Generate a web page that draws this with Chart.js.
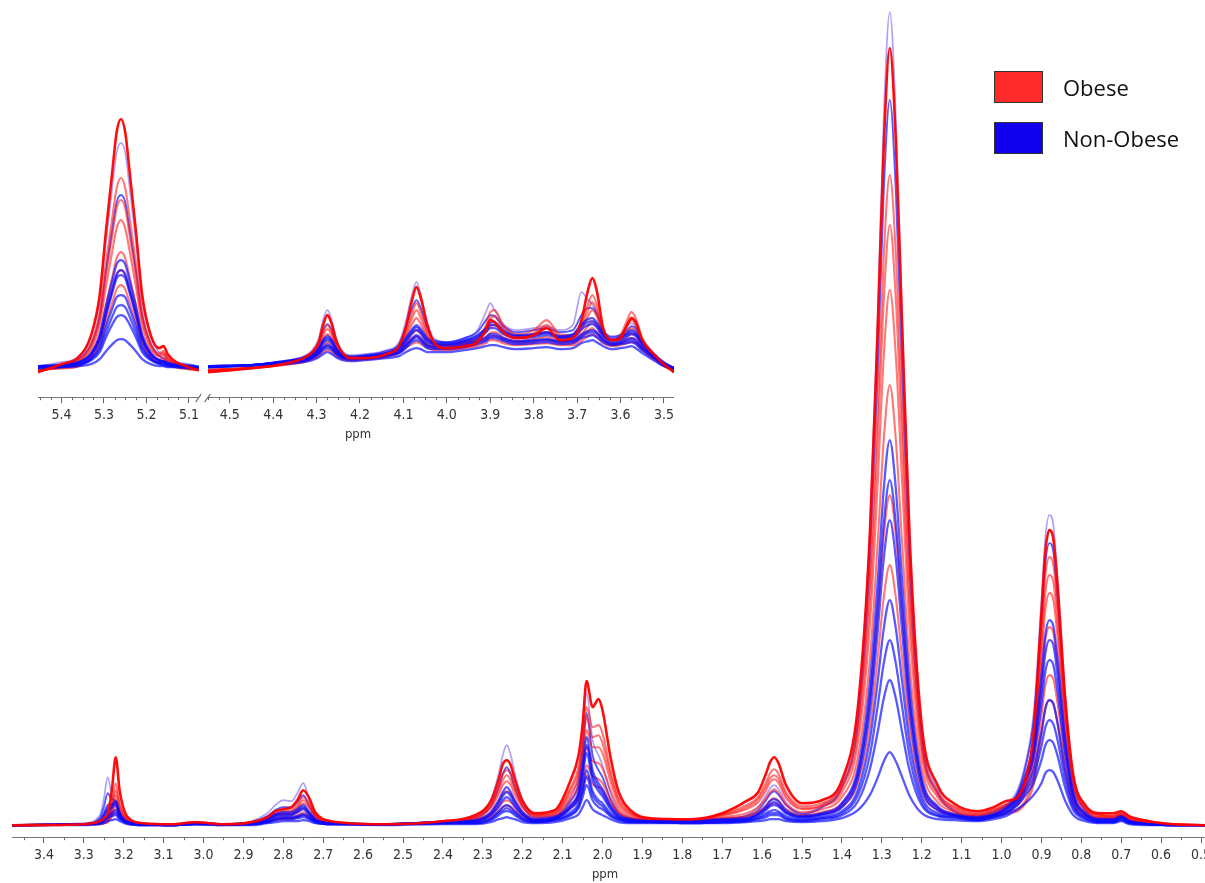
<!DOCTYPE html>
<html><head><meta charset="utf-8">
<script src="https://cdn.jsdelivr.net/npm/chart.js@4.4.1/dist/chart.umd.min.js"></script>
<style>
html,body{margin:0;padding:0;background:#fff;overflow:hidden;width:1205px;height:883px;}
#wrap{position:relative;width:1205px;height:883px;overflow:hidden;}
canvas{position:absolute;}
#main{left:0;top:0;}
#insL{left:38px;top:90px;}
#insR{left:208px;top:90px;}
.ppm{position:absolute;font-family:'DejaVu Sans Condensed','DejaVu Sans',sans-serif;font-size:13px;color:#333;transform:translate(-50%,-50%);}
.box{position:absolute;width:47px;height:30px;border:1px solid #333;}
.leg{position:absolute;font-family:'Open Sans',sans-serif;font-size:22px;color:#111;transform:translateY(-50%);white-space:nowrap;}
.brk{position:absolute;width:1px;height:10px;background:#666;transform:rotate(35deg);}
</style></head>
<body><div id="wrap">
<canvas id="main" width="1225" height="883"></canvas>
<canvas id="insL" width="165" height="340"></canvas>
<canvas id="insR" width="470" height="340"></canvas>
<div class="ppm" style="left:605px;top:873px">ppm</div>
<div class="ppm" style="left:358px;top:433px">ppm</div>
<div class="brk" style="left:198px;top:393px"></div>
<div class="brk" style="left:207px;top:393px"></div>
<div class="box" style="left:994px;top:71px;background:#ff2b2b"></div>
<div class="leg" style="left:1063px;top:87px">Obese</div>
<div class="box" style="left:994px;top:122px;background:#1100ee"></div>
<div class="leg" style="left:1063px;top:138px">Non-Obese</div>
</div>
<script>
// ---------- main spectrum (ppm grid) ----------
const ppmMain = [3.48,3.30,3.26,3.25,3.24,3.23,3.22,3.21,3.19,3.15,
 3.08,3.02,2.95,
 2.88,2.84,2.82,2.80,2.78,2.765,2.75,2.735,2.72,2.68,
 2.55,2.40,
 2.32,2.28,2.26,2.25,2.24,2.23,2.22,2.20,2.17,
 2.12,2.08,2.06,2.05,2.04,2.025,2.01,2.00,1.98,1.96,1.93,
 1.88,1.78,1.70,
 1.64,1.61,1.59,1.58,1.57,1.56,1.54,1.50,
 1.45,1.40,1.36,1.33,1.31,1.295,1.28,1.265,1.25,1.23,1.20,1.16,
 1.12,1.06,1.02,0.99,
 0.96,0.94,0.92,0.90,0.89,0.88,0.87,0.86,0.84,0.82,0.79,
 0.75,0.72,0.70,0.68,0.63,0.57,0.49];
const mainTickLabels = [3.4,3.3,3.2,3.1,3.0,2.9,2.8,2.7,2.6,2.5,2.4,2.3,2.2,2.1,2.0,1.9,1.8,1.7,1.6,1.5,1.4,1.3,1.2,1.1,1.0,0.9,0.8,0.7,0.6,0.5];

const obese1 = [0,1,4,7,12,34,68,34,8,2, 1,3,1, 3,8,14,16,18,25,35,27,13,4, 1,4, 10,24,46,61,65,60,46,24,12,
 15,45,70,100,144,118,126,115,68,34,15, 7,6,12, 24,33,52,63,68,63,40,22,
 25,45,118,290,500,680,777,685,510,285,100,40, 22,14,18,24, 28,46,90,212,274,295,286,242,125,50,20, 12,12,14,9,4,1,0];
const obese2 = [0,1,3,5,9,22,42,22,6,2, 1,3,1, 3,7,12,14,15,20,28,22,11,3, 1,4, 9,21,39,51,55,51,39,21,11,
 13,38,58,84,118,98,100,92,55,28,13, 6,5,11, 20,28,43,52,56,52,33,19,
 22,40,100,245,420,570,650,572,425,238,85,34, 19,12,16,21, 26,42,82,194,250,268,260,220,114,46,18, 11,10,12,8,4,1,0];
const obese3 = [0,1,2,4,8,19,35,19,5,1, 1,2,1, 2,6,11,12,13,18,25,19,10,3, 1,4, 8,19,35,45,50,45,35,19,10,
 12,35,53,76,108,88,90,82,50,25,12, 6,5,10, 18,26,39,47,50,47,30,17,
 20,37,92,225,387,525,600,527,392,219,78,31, 18,11,15,20, 25,40,76,181,233,250,243,205,106,43,17, 10,9,11,7,3,1,0];
const obese4 = [0,1,2,4,7,16,30,16,5,1, 0,2,1, 2,6,10,11,12,16,22,17,9,3, 1,3, 7,17,31,40,44,40,31,17,9,
 11,31,47,68,95,78,78,72,44,22,11, 5,5,10, 16,23,35,43,46,43,27,16,
 19,33,82,200,345,470,535,470,350,195,70,28, 16,10,14,19, 23,37,71,168,216,232,225,190,98,39,15, 10,9,11,7,3,1,0];
const obese5 = [0,1,2,3,5,13,24,13,4,1, 0,2,1, 2,5,8,9,10,13,17,13,7,2, 1,3, 6,13,24,31,34,31,24,13,7,
 9,26,39,56,78,64,62,57,35,18,9, 5,4,8, 12,18,27,33,36,33,21,13,
 16,28,68,165,284,386,440,386,288,160,58,23, 14,9,12,17, 20,32,61,143,185,198,192,162,84,33,13, 9,8,10,6,3,1,0];
const obese6 = [0,1,1,2,4,10,18,10,3,1, 0,2,1, 1,4,6,7,8,10,13,10,5,2, 1,3, 5,10,18,23,25,23,18,10,5,
 7,20,30,43,60,49,46,42,26,14,7, 4,4,7, 9,14,20,25,27,25,16,10,
 13,22,52,124,213,290,330,290,216,120,44,18, 12,8,10,14, 16,25,47,109,140,150,146,123,64,25,10, 8,7,9,5,2,1,0];
const obese7 = [0,1,1,2,3,8,14,8,2,1, 0,1,1, 1,3,5,6,6,8,10,8,4,1, 1,2, 4,8,14,18,20,18,14,8,4,
 6,17,25,36,50,41,38,35,22,12,6, 4,3,6, 8,12,17,20,22,20,13,9,
 11,18,42,98,168,228,260,228,170,95,35,15, 10,7,9,12, 14,22,40,91,117,125,122,103,54,22,9, 7,6,8,4,2,1,0];

const nonObese1 = [0,2,10,26,48,30,22,12,4,1, 1,3,1, 4,12,20,25,24,32,42,26,11,3, 1,3, 8,25,52,70,80,70,52,25,10,
 10,28,50,88,132,85,70,60,32,15,8, 5,4,7, 10,18,30,37,40,37,23,12,
 20,42,115,295,515,710,813,710,520,285,95,36, 16,10,14,20, 35,62,110,225,288,310,300,250,128,48,16, 8,8,11,6,2,0,0];
const nonObese2 = [0,1,7,18,32,26,25,14,4,1, 1,2,1, 3,9,15,18,18,23,30,19,8,2, 1,3, 7,19,38,51,58,51,38,19,8,
 9,24,42,75,112,70,55,48,26,12,7, 5,4,6, 9,15,25,31,34,31,20,11,
 18,38,102,265,460,635,725,635,465,255,85,32, 14,9,13,19, 32,58,102,205,262,282,273,228,116,44,15, 7,7,10,5,2,0,0];
const nonObese3 = [0,1,5,11,20,21,24,12,3,1, 0,2,1, 2,7,11,13,13,16,20,13,6,2, 1,3, 5,13,25,33,38,33,25,13,6,
 8,20,34,60,88,55,42,36,20,10,6, 4,4,6, 7,12,19,24,26,24,15,9,
 12,22,57,142,245,337,385,337,250,138,48,19, 11,8,11,17, 30,50,80,150,191,205,199,168,86,33,12, 6,6,9,4,1,0,0];
const nonObese4 = [0,1,4,10,17,19,22,11,3,1, 0,2,1, 2,6,10,11,11,14,18,12,5,2, 1,3, 4,11,22,29,33,29,22,11,5,
 7,18,31,54,80,50,38,32,18,9,5, 4,3,5, 6,11,17,21,23,21,13,8,
 11,20,51,127,220,302,345,302,224,124,43,17, 10,7,10,16, 28,47,73,135,172,185,180,151,78,30,11, 5,5,8,4,1,0,0];
const nonObese5 = [0,1,4,8,14,17,20,10,3,1, 0,2,1, 2,5,9,10,10,13,16,10,5,2, 1,3, 4,10,19,25,28,25,19,10,5,
 7,17,28,49,72,45,34,29,16,8,5, 4,3,5, 6,10,15,19,20,19,12,8,
 10,18,46,113,195,267,305,267,198,110,38,15, 10,7,10,15, 27,44,66,121,154,165,160,135,70,27,10, 5,5,8,4,1,0,0];
const nonObese6 = [0,1,3,6,10,13,15,8,2,1, 0,1,1, 1,4,7,8,8,9,11,8,4,1, 1,2, 3,7,14,18,20,18,14,7,4,
 6,13,22,38,55,34,25,22,12,7,4, 3,3,4, 5,8,12,14,15,14,9,6,
 8,14,35,85,145,197,225,197,147,82,29,12, 9,6,9,13, 24,38,55,93,117,125,121,103,54,21,8, 4,4,7,3,1,0,0];
const nonObese7 = [0,1,2,5,8,11,12,7,2,0, 0,1,1, 1,3,6,7,7,8,10,7,3,1, 1,2, 2,6,12,15,17,15,12,6,3,
 5,11,19,33,48,30,22,19,10,6,3, 3,2,3, 4,7,10,12,12,12,7,5,
 7,12,30,70,120,162,185,162,121,68,24,10, 8,5,8,12, 22,34,48,79,98,105,101,86,45,18,7, 3,3,6,2,1,0,0];
const nonObese8 = [0,1,2,4,7,9,10,6,2,0, 0,1,0, 1,3,5,6,6,7,8,6,3,1, 1,2, 2,5,10,13,14,13,10,5,3,
 5,10,17,28,40,25,18,16,9,5,3, 3,2,3, 4,6,8,10,10,10,6,4,
 6,10,24,56,94,127,145,127,95,54,20,9, 7,5,8,11, 20,30,42,65,80,85,82,70,37,15,6, 3,3,5,2,1,0,0];
const nonObese9 = [0,0,1,2,4,5,6,4,1,0, 0,1,0, 0,2,3,4,4,4,5,4,2,1, 0,1, 1,3,6,7,8,7,6,3,2,
 3,7,11,18,25,16,12,10,6,3,2, 2,2,2, 3,4,5,6,6,6,4,3,
 4,7,15,30,48,64,73,64,49,29,12,6, 5,4,6,9, 16,22,30,42,52,55,53,45,24,10,4, 2,2,4,1,0,0,0];

// ---------- inset, left part (5.455 - 5.077 ppm) ----------
const ppmInsetL = [5.455,5.40,5.36,5.33,5.31,5.295,5.28,5.27,5.26,5.25,5.24,5.225,5.21,5.19,5.17,5.16,5.15,5.13,5.10,5.077];
const insetTicksL = [5.4,5.3,5.2,5.1];
const obese1L = [-2,6,13,35,75,140,200,238,251,238,200,140,75,35,22,24,16,8,3,0];
const obese2L = [-1,5,10,27,58,108,154,182,192,182,154,108,58,27,17,19,13,6,3,1];
const obese3L = [-1,5,9,24,51,95,136,162,170,162,136,95,51,24,15,17,12,6,3,1];
const obese4L = [-1,4,8,21,45,84,120,142,150,142,120,84,45,21,14,15,10,5,2,0];
const obese5L = [0,3,6,17,35,66,94,112,118,112,94,66,35,17,11,12,8,4,2,0];
const obese6L = [0,2,4,14,30,56,80,95,100,95,80,56,30,14,9,10,7,3,1,0];
const obese7L = [0,2,4,12,26,48,68,81,85,81,68,48,26,12,8,9,6,3,1,0];
const nonObese1L = [4,8,13,34,70,129,184,218,227,218,184,129,70,34,18,16,11,8,6,4];
const nonObese2L = [4,6,11,26,54,100,142,168,175,168,142,100,54,26,14,12,9,7,5,4];
const nonObese3L = [4,5,8,17,35,64,90,106,110,106,90,64,35,17,10,9,7,5,4,3];
const nonObese4L = [4,5,8,16,32,58,82,96,100,96,82,58,32,16,10,9,7,5,4,3];
const nonObese5L = [3,5,7,15,30,55,78,92,95,92,78,55,30,15,9,8,6,5,4,3];
const nonObese6L = [3,4,6,12,24,44,62,73,75,73,62,44,24,12,7,7,5,4,3,2];
const nonObese7L = [3,4,6,11,21,38,54,63,65,63,54,38,21,11,7,6,5,4,3,2];
const nonObese8L = [2,3,5,10,18,33,46,53,55,53,46,33,18,10,6,5,4,3,2,2];
const nonObese9L = [2,3,4,6,11,19,26,30,31,30,26,19,11,6,4,4,3,3,2,1];

// ---------- inset, right part (4.55 - 3.477 ppm) ----------
const ppmInsetR = [4.55,4.45,4.38,4.33,4.31,4.295,4.285,4.275,4.265,4.255,4.24,4.22,4.19,4.14,4.11,4.095,4.08,4.07,4.06,4.045,4.03,4.00,3.96,3.93,3.91,3.90,3.89,3.87,3.84,3.80,3.77,3.74,3.71,3.69,3.675,3.665,3.655,3.64,3.62,3.60,3.585,3.575,3.565,3.55,3.52,3.50,3.477];
const insetTicksR = [4.5,4.4,4.3,4.2,4.1,4.0,3.9,3.8,3.7,3.6,3.5];
const obese1R = [-2,2,6,12,18, 28,45,55,46,30, 17,12,12,16,24, 42,70,83,72,45, 28,22,24,28,40, 50,48,38,32,35, 42,30,32,50,80, 92,80,42,30,32, 45,52,48,30,14, 6,-2];
const obese2R = [-1,3,7,12,17, 25,38,45,38,25, 15,12,13,17,24, 38,57,67,58,38, 27,25,28,32,45, 58,60,45,36,40, 50,36,35,48,66, 75,66,38,30,35, 50,58,52,32,15, 6,-2];
const obese3R = [-1,3,7,12,16, 23,35,41,35,23, 15,12,13,17,23, 35,52,60,52,35, 26,25,28,31,42, 52,54,42,34,37, 45,34,34,44,60, 68,60,37,30,34, 44,50,46,30,15, 6,-2];
const obese4R = [0,3,7,11,15, 21,31,36,31,21, 14,12,13,16,22, 32,46,52,46,32, 25,24,27,30,38, 44,45,38,32,34, 38,32,32,40,54, 60,54,36,30,32, 38,42,40,28,14, 6,-1];
const obese5R = [0,2,6,10,13, 18,25,28,25,18, 13,11,12,15,20, 27,36,40,36,27, 23,22,25,28,33, 37,38,33,29,31, 33,29,29,35,44, 48,44,32,27,29, 33,36,35,25,12, 5,-1];
const obese6R = [0,2,5,9,12, 16,22,24,22,16, 12,10,11,14,18, 25,31,34,31,25, 22,21,23,26,30, 33,34,30,27,28, 30,27,27,32,39, 42,38,30,25,27, 30,32,31,22,11, 4,-1];
const obese7R = [1,2,5,8,11, 14,18,20,18,14, 11,10,11,13,17, 22,26,28,26,22, 20,20,22,24,27, 30,30,27,25,26, 27,25,25,29,34, 36,33,27,24,25, 27,28,27,20,10, 4,0];
const nonObese1R = [3,5,9,14,20, 32,50,60,50,32, 19,15,16,20,28, 48,76,88,76,48, 32,28,32,40,58, 67,60,46,40,42, 44,40,45,78,70, 66,58,40,34,36, 44,47,44,30,15, 8,2];
const nonObese2R = [3,5,9,13,18, 27,40,46,40,27, 17,14,15,19,26, 42,62,70,62,42, 30,28,32,38,50, 55,54,44,38,40, 42,38,40,55,62, 62,56,40,33,35, 40,44,42,30,15, 8,2];
const nonObese3R = [3,5,8,12,16, 22,30,34,30,22, 15,13,14,17,23, 32,41,45,41,32, 28,27,30,35,42, 47,48,40,35,36, 38,34,36,46,51, 52,48,37,31,33, 37,40,38,28,14, 7,2];
const nonObese4R = [3,5,8,12,15, 21,29,32,29,21, 15,13,14,17,22, 30,39,43,39,30, 27,26,29,34,40, 45,45,38,34,35, 37,33,35,44,48, 49,46,36,30,32, 36,38,36,27,14, 7,2];
const nonObese5R = [3,5,8,11,14, 20,27,30,27,20, 14,12,13,16,21, 28,37,40,37,28, 26,25,28,32,38, 42,42,36,32,33, 35,32,33,41,45, 46,43,34,29,30, 34,36,34,26,13, 6,2];
const nonObese6R = [4,5,8,10,13, 18,23,26,23,18, 13,12,12,15,19, 25,32,35,32,25, 24,23,26,29,33, 36,36,32,29,30, 31,29,30,36,39, 40,38,31,27,28, 31,32,30,23,12, 6,2];
const nonObese7R = [4,5,8,10,13, 17,22,24,22,17, 13,12,12,15,18, 24,30,33,30,24, 23,22,25,28,31, 34,34,31,28,29, 30,28,29,34,37, 38,36,30,26,27, 29,30,28,22,12, 6,2];
const nonObese8R = [4,5,7,9,12, 16,20,22,20,16, 12,11,11,14,17, 22,28,30,28,22, 21,21,23,26,29, 32,32,29,26,27, 28,26,27,32,34, 35,33,28,25,26, 27,28,26,20,11, 5,2];
const nonObese9R = [4,5,6,8,10, 13,16,18,16,13, 10,9,10,12,14, 18,21,22,21,18, 18,18,20,22,24, 25,25,23,21,22, 23,21,22,27,29, 30,28,24,21,22, 23,24,22,17,9, 4,1];

// ---------- styles ----------
const RED_STRONG = 'rgba(255,0,0,0.95)';
const RED = 'rgba(255,20,20,0.58)';
const BLUE_TALL = 'rgba(125,95,235,0.6)';
const BLUE = 'rgba(10,10,255,0.68)';

function series(xs, ys, color, width){
  return {data: xs.map((x,i)=>({x:x, y:ys[i]})), borderColor: color, borderWidth: width,
    pointRadius:0, fill:false, cubicInterpolationMode:'monotone'};
}
function buildSets(xs, o, n){
  // first in array is drawn on top
  const sets = [series(xs, o[0], RED_STRONG, 2.6)];
  for (let i = n.length - 1; i >= 2; i--) sets.push(series(xs, n[i], BLUE, 2.3));
  for (let i = o.length - 1; i >= 1; i--) sets.push(series(xs, o[i], RED, 2.1));
  sets.push(series(xs, n[1], BLUE, 1.9));
  sets.push(series(xs, n[0], BLUE_TALL, 1.7));
  return sets;
}

const minorTicks = {
  id:'minorTicks',
  afterDraw(chart, args, opts){
    const s = chart.scales.x, ctx = chart.ctx;
    const lo = Math.min(s.min, s.max), hi = Math.max(s.min, s.max);
    ctx.save(); ctx.strokeStyle = '#666'; ctx.lineWidth = 1;
    for (let k = Math.ceil(lo/opts.step - 1e-6); k*opts.step <= hi + 1e-9; k++){
      const v = k*opts.step;
      if (Math.abs(v*10 - Math.round(v*10)) < 1e-6) continue;
      const px = Math.round(s.getPixelForValue(v)) + 0.5;
      ctx.beginPath(); ctx.moveTo(px, s.top); ctx.lineTo(px, s.top + opts.len); ctx.stroke();
    }
    ctx.restore();
  }
};

const FONT = {family:"'DejaVu Sans Condensed','DejaVu Sans',sans-serif", size:14};

function xAxis(min, max, tickList){
  return {type:'linear', reverse:true, min:min, max:max,
    afterBuildTicks: s => { s.ticks = tickList.map(v => ({value:v})); },
    ticks:{font:FONT, color:'#333', padding:4, maxRotation:0, autoSkip:false,
      callback: v => Number(v).toFixed(1)},
    grid:{drawOnChartArea:false, drawTicks:true, tickLength:6, color:'#666'},
    border:{color:'#777', width:1}};
}

function makeChart(id, sets, xcfg, ymin, ymax, padding, step){
  return new Chart(document.getElementById(id), {
    type:'line',
    data:{datasets: sets},
    options:{responsive:false, animation:false, events:[],
      layout:{padding: padding},
      plugins:{legend:{display:false}, tooltip:{enabled:false}, minorTicks:{step:step, len:3}},
      scales:{x: xcfg, y:{display:false, min:ymin, max:ymax}}
    },
    plugins:[minorTicks]
  });
}

makeChart('main',
  buildSets(ppmMain, [obese1,obese2,obese3,obese4,obese5,obese6,obese7],
    [nonObese1,nonObese2,nonObese3,nonObese4,nonObese5,nonObese6,nonObese7,nonObese8,nonObese9]),
  xAxis(0.49, 3.48, mainTickLabels), -12, 820, {left:12, right:20, top:5, bottom:15}, 0.05);

makeChart('insL',
  buildSets(ppmInsetL, [obese1L,obese2L,obese3L,obese4L,obese5L,obese6L,obese7L],
    [nonObese1L,nonObese2L,nonObese3L,nonObese4L,nonObese5L,nonObese6L,nonObese7L,nonObese8L,nonObese9L]),
  xAxis(5.077, 5.455, insetTicksL), -27, 280, {left:0, right:0, top:0, bottom:2}, 0.025);

makeChart('insR',
  buildSets(ppmInsetR, [obese1R,obese2R,obese3R,obese4R,obese5R,obese6R,obese7R],
    [nonObese1R,nonObese2R,nonObese3R,nonObese4R,nonObese5R,nonObese6R,nonObese7R,nonObese8R,nonObese9R]),
  xAxis(3.477, 4.55, insetTicksR), -27, 280, {left:0, right:0, top:0, bottom:2}, 0.025);
</script>
</body></html>
